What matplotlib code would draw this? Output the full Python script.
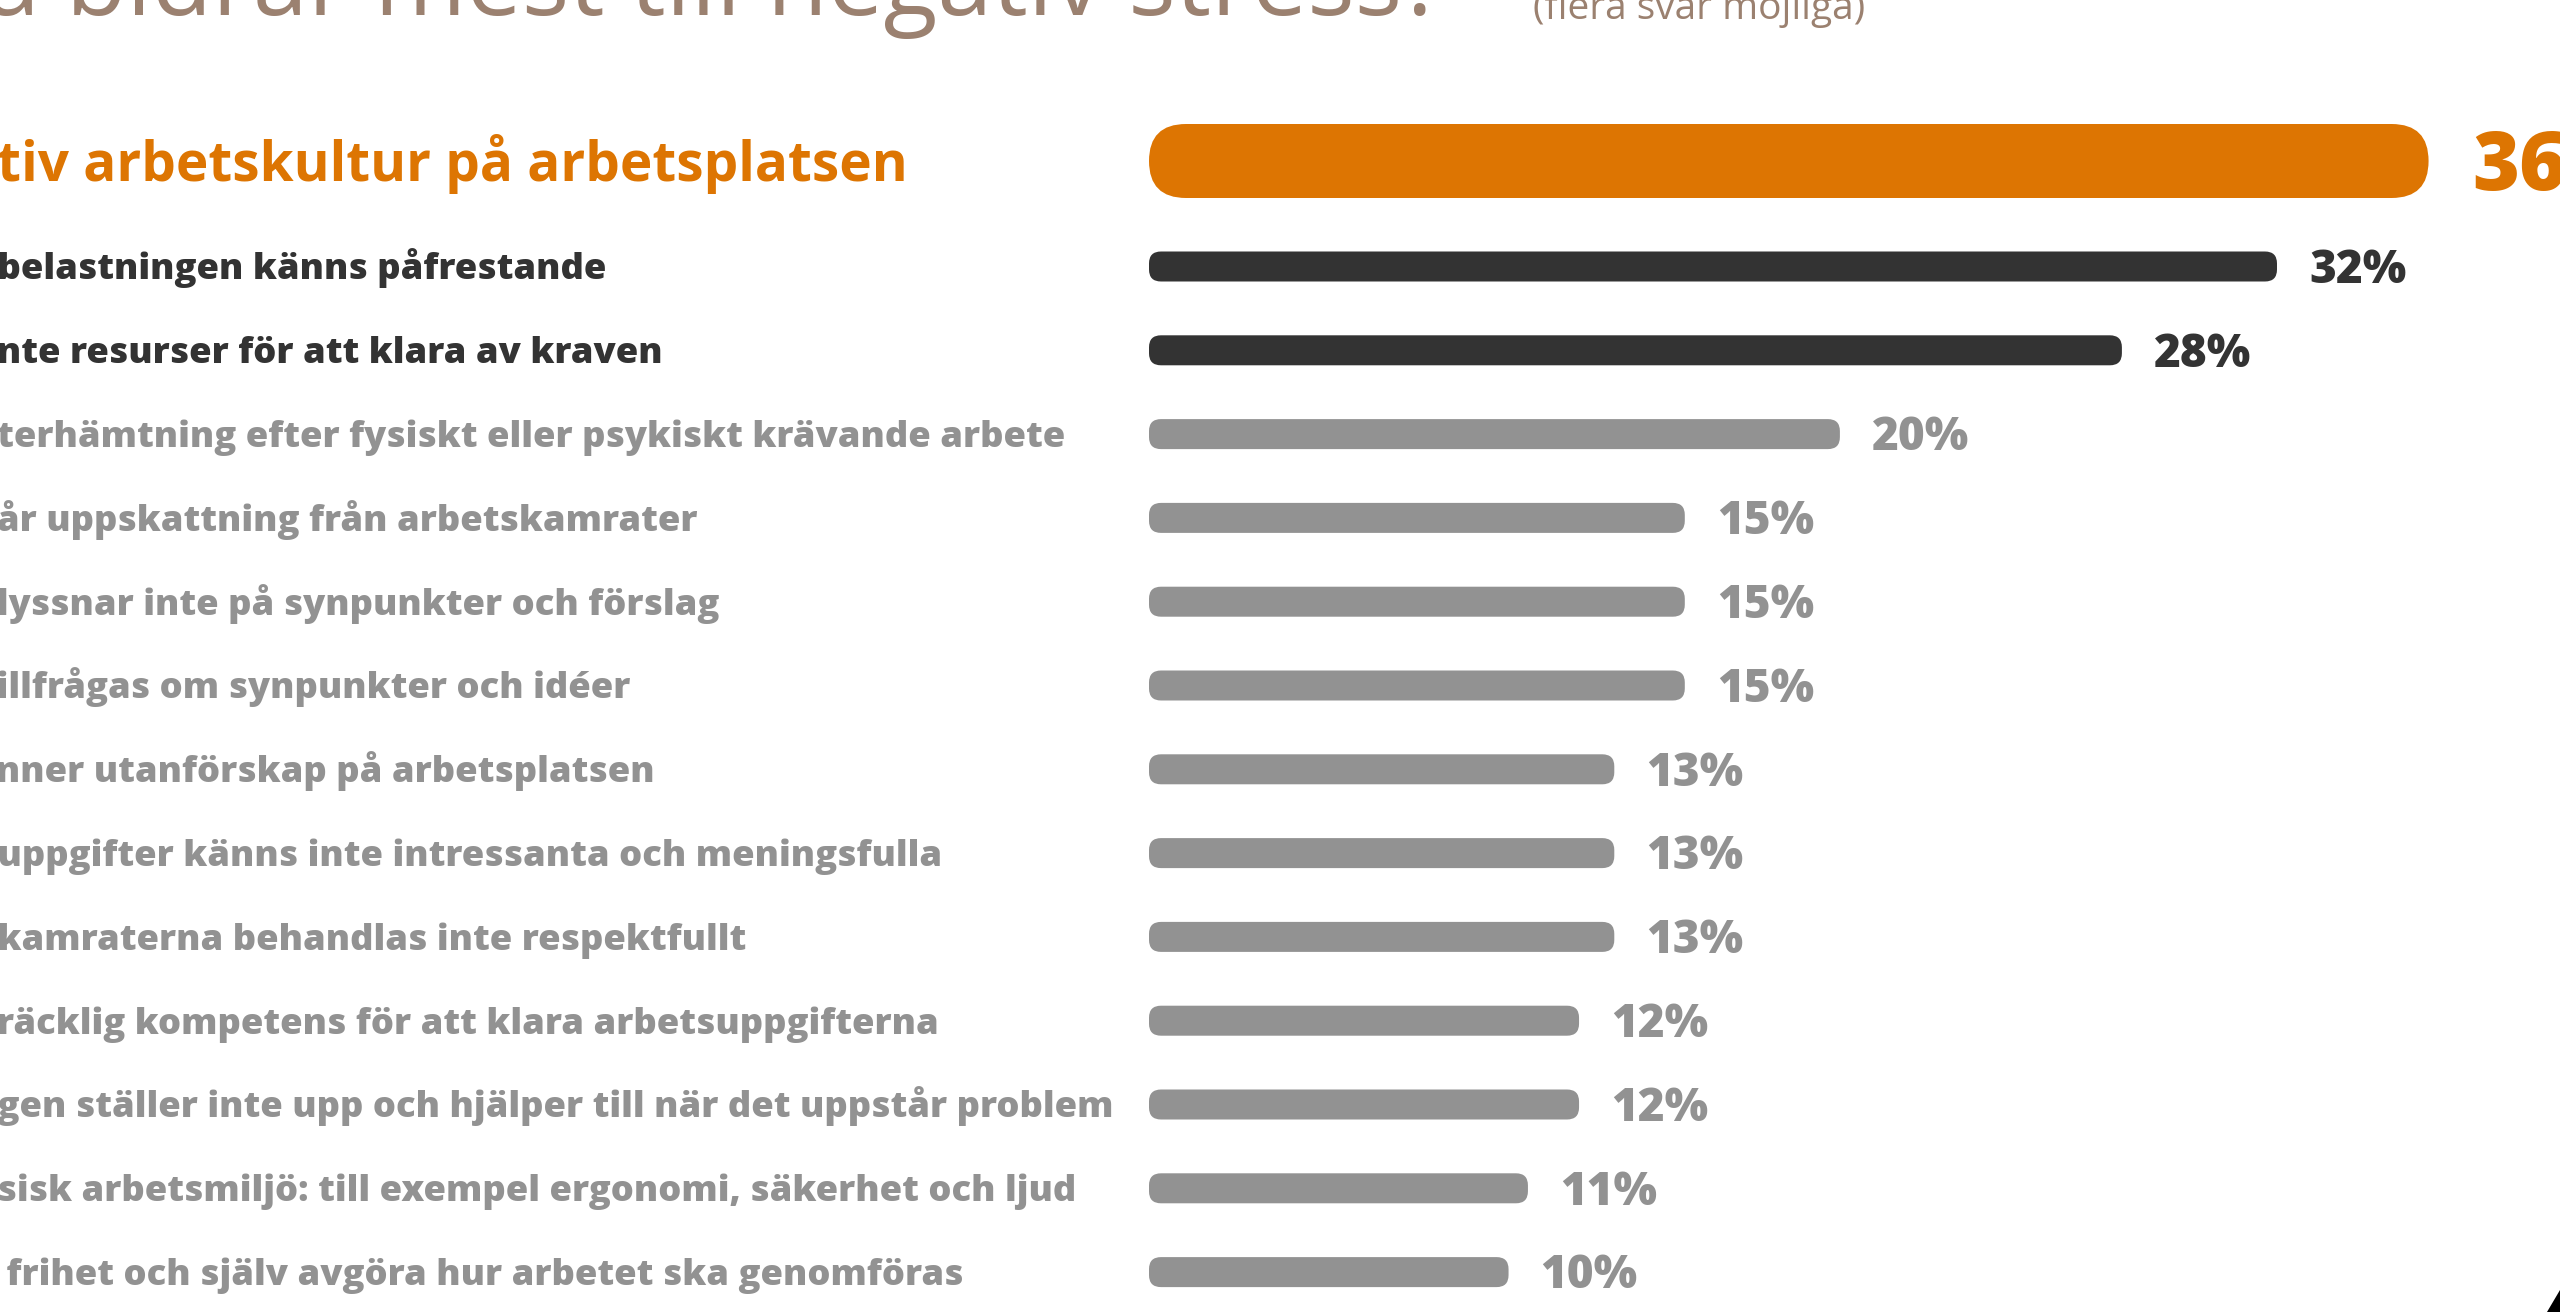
import matplotlib
matplotlib.use("Agg")
import matplotlib.pyplot as plt
from matplotlib.patches import FancyBboxPatch, Polygon
from matplotlib.transforms import offset_copy
import numpy as np

plt.rcParams['font.family'] = ['Open Sans', 'DejaVu Sans']

title = "Vilka av dessa bidrar mest till negativ stress?"
subtitle = "(flera svar möjliga)"

categories = [
    "Negativ arbetskultur på arbetsplatsen",
    "Arbetsbelastningen känns påfrestande",
    "Har inte resurser för att klara av kraven",
    "Dålig återhämtning efter fysiskt eller psykiskt krävande arbete",
    "Sällan får uppskattning från arbetskamrater",
    "Chefen lyssnar inte på synpunkter och förslag",
    "Sällan tillfrågas om synpunkter och idéer",
    "Jag känner utanförskap på arbetsplatsen",
    "Arbetsuppgifter känns inte intressanta och meningsfulla",
    "Arbetskamraterna behandlas inte respektfullt",
    "Otillräcklig kompetens för att klara arbetsuppgifterna",
    "Ledningen ställer inte upp och hjälper till när det uppstår problem",
    "Dålig fysisk arbetsmiljö: till exempel ergonomi, säkerhet och ljud",
    "Saknar frihet och själv avgöra hur arbetet ska genomföras",
]
values = [36.3, 32.0, 27.6, 19.6, 15.2, 15.2, 15.2, 13.2, 13.2, 13.2, 12.2, 12.2, 10.75, 10.2]

# how many leading characters of each label fall outside the left edge
hidden_chars = [4, 6, 5, 7, 8, 7, 8, 6, 6, 6, 5, 6, 8, 6]

ORANGE = "#DD7502"
DARK = "#333333"
GRAY = "#929292"
TITLE_C = "#9B8170"

W, H = 2560, 1312
X0_PX = 1149.0        # pixel where 0 % sits
PX_PER_PCT = 35.25
ROW0_PX = 266.5       # centre of the second row
ROW_PX = 83.8

fig = plt.figure(figsize=(W / 100, H / 100), dpi=100)
fig.patch.set_facecolor("white")
ax = fig.add_axes([0, 0, 1, 1])
ax.set_xlim(-X0_PX / PX_PER_PCT, (W - X0_PX) / PX_PER_PCT)
ax.set_ylim((H - ROW0_PX) / ROW_PX, -ROW0_PX / ROW_PX)
ax.axis("off")
renderer = fig.canvas.get_renderer()


def text_width(s, **kw):
    t = fig.text(0, 0, s, **kw)
    w = t.get_window_extent(renderer).width
    t.remove()
    return w


n = len(values)
ypos = np.arange(n, dtype=float) - 1.0
ypos[0] = -105.5 / ROW_PX

aspect = PX_PER_PCT / ROW_PX
for i, (cat, v, y) in enumerate(zip(categories, values, ypos)):
    if i == 0:
        color, h_px, r_px = ORANGE, 74, 37
        fs_lab, w_lab, fs_val, gap = 39.5, "bold", 58, 44
    else:
        color = DARK if i < 3 else GRAY
        h_px, r_px = 30, 12
        fs_lab, w_lab, fs_val, gap = 26.2, "heavy", 33, 32
    h = h_px / ROW_PX
    bar = FancyBboxPatch((0, y - h / 2), v, h,
                         boxstyle=f"round,pad=0,rounding_size={r_px / PX_PER_PCT}",
                         mutation_aspect=aspect, fc=color, ec="none")
    ax.add_patch(bar)

    lab_kw = dict(fontsize=fs_lab, fontweight=w_lab)
    prefix = cat[:hidden_chars[i]]
    shift = text_width(prefix + "|", **lab_kw) - text_width("|", **lab_kw)
    lab_px = -shift - 3

    cap_lab = 0.714 * fs_lab * 100 / 72
    cap_val = 0.714 * fs_val * 100 / 72
    ax.text((lab_px - X0_PX) / PX_PER_PCT, y, cat, ha="left", va="baseline",
            color=color, **lab_kw,
            transform=offset_copy(ax.transData, fig=fig, y=-cap_lab / 2, units="dots"))
    ax.text(v, y, f"{round(v)}%", ha="left", va="baseline",
            fontsize=fs_val, fontweight="heavy", color=color,
            transform=offset_copy(ax.transData, fig=fig, x=gap, y=-cap_val / 2, units="dots"))

# title (cut off at the top edge like the source)
fig.text(1445 / W, 1 - 15 / H, title, ha="right", va="baseline",
         fontsize=71.5, color=TITLE_C)
fig.text(1533 / W, 1 - 19.5 / H, subtitle, ha="left", va="baseline",
         fontsize=28, color=TITLE_C)

# corner of a logo peeking in at the bottom right
fig.patches.append(Polygon([(2547 / W, 0), (1.0, 22 / H), (1.0, 0)],
                           closed=True, fc="black", ec="none",
                           transform=fig.transFigure, figure=fig))

fig.savefig("out.png", dpi=100, facecolor="white")
